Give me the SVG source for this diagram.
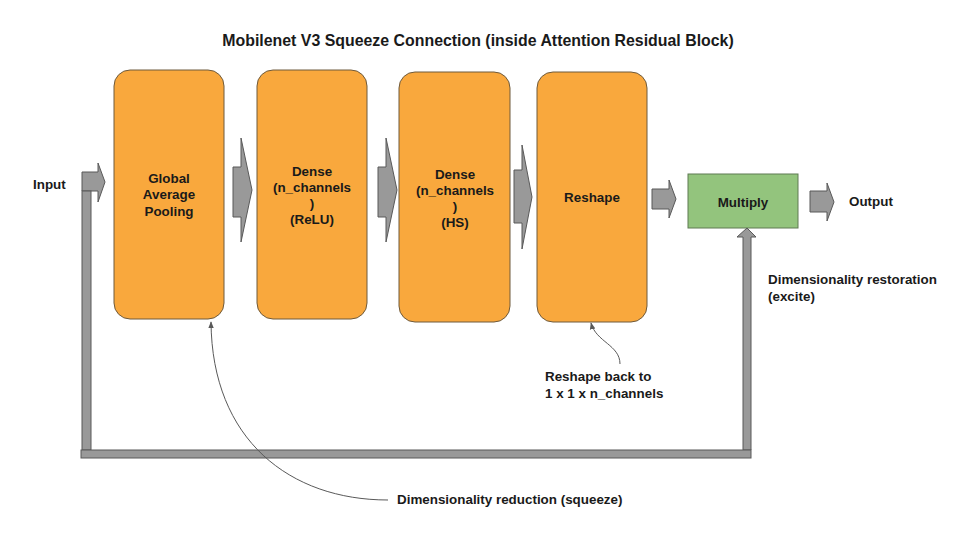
<svg xmlns="http://www.w3.org/2000/svg" width="960" height="540" viewBox="0 0 960 540">
<defs>
<style>
.box{fill:#f9a83d;stroke:#6e5a3c;stroke-width:1}
.mul{fill:#93c47d;stroke:#5f7a52;stroke-width:1}
.blk{fill:#999999;stroke:#595959;stroke-width:1}
.t{font-family:"Liberation Sans",Arial,sans-serif;font-weight:bold;font-size:13.4px;fill:#1a1a1a}
.c{text-anchor:middle}
.ln{fill:none;stroke:#595959;stroke-width:1}
</style>
<marker id="ah" viewBox="0 0 10 10" refX="9" refY="5" markerWidth="7" markerHeight="7" orient="auto-start-reverse" markerUnits="userSpaceOnUse">
<path d="M0,1 L10,5 L0,9 z" fill="#595959"/>
</marker>
</defs>
<rect width="960" height="540" fill="#ffffff"/>
<text x="478" y="46" class="t c" style="font-size:15.9px">Mobilenet V3 Squeeze Connection (inside Attention Residual Block)</text>

<g id="gap">
<rect class="box" x="114" y="70" width="110" height="249" rx="16"/>
<text class="t c" x="169" y="183">Global</text>
<text class="t c" x="169" y="199">Average</text>
<text class="t c" x="169" y="216">Pooling</text>
</g>
<g id="dense1">
<rect class="box" x="257" y="70" width="110" height="249" rx="16"/>
<text class="t c" x="312" y="176">Dense</text>
<text class="t c" x="312" y="192">(n_channels</text>
<text class="t c" x="312" y="208">)</text>
<text class="t c" x="312" y="224">(ReLU)</text>
</g>
<g id="dense2">
<rect class="box" x="399" y="72" width="111" height="250" rx="16"/>
<text class="t c" x="455" y="179">Dense</text>
<text class="t c" x="455" y="195">(n_channels</text>
<text class="t c" x="455" y="211">)</text>
<text class="t c" x="455" y="227">(HS)</text>
</g>
<g id="reshape">
<rect class="box" x="537" y="72" width="110" height="250" rx="16"/>
<text class="t c" x="592" y="202">Reshape</text>
</g>
<g id="multiply">
<rect class="mul" x="688" y="174" width="110" height="54"/>
<text class="t c" x="743" y="207">Multiply</text>
</g>
<g id="labels">
<text class="t" x="33" y="189">Input</text>
<text class="t" x="849" y="206">Output</text>
<text class="t" x="768" y="284">Dimensionality restoration</text>
<text class="t" x="768" y="301">(excite)</text>
<text class="t" x="545" y="381">Reshape back to</text>
<text class="t" x="545" y="398">1 x 1 x n_channels</text>
<text class="t" x="397" y="504">Dimensionality reduction (squeeze)</text>
</g>

<g id="connectors">
<polygon class="blk" points="82,172 98,172 98,163 105,182 98,202 98,191 82,191"/>
<polygon class="blk" points="233,167 241,167 241,138 252,190 241,242 241,217 233,217"/>
<polygon class="blk" points="378,167 386,167 386,138 397,190 386,242 386,217 378,217"/>
<polygon class="blk" points="514,170 522,170 522,145 532,197 522,249 522,223 514,223"/>
<polygon class="blk" points="652,189 669,189 669,180 676,199 669,218 669,209 652,209"/>
<polygon class="blk" points="810,191 827,191 827,183 834,202 827,221 827,212 810,212"/>
<rect class="blk" x="82" y="191" width="9" height="259"/>
<polygon class="blk" points="743,450 743,237 737,237 747,228 756,237 751,237 751,450"/>
<rect class="blk" x="81" y="450" width="670" height="8"/>
<path class="ln" d="M388,500 C290,500 212,440 211,322" marker-end="url(#ah)"/>
<path class="ln" d="M620,364 C620,345 596,342 591,323" marker-end="url(#ah)"/>
</g>
</svg>
